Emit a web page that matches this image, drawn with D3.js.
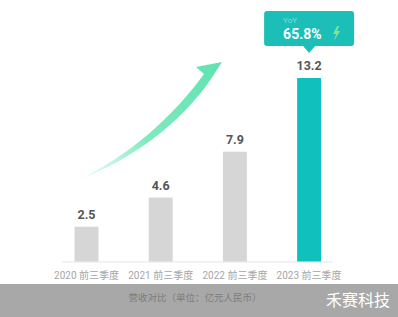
<!DOCTYPE html>
<html><head><meta charset="utf-8">
<script src="https://cdn.jsdelivr.net/npm/d3@7"></script>
<style>html,body{margin:0;padding:0;background:#fff;overflow:hidden}</style>
</head><body>
<svg id="c" width="398" height="317"></svg>
<script>
const categories = ["2020 前三季度","2021 前三季度","2022 前三季度","2023 前三季度"];
const values = [2.5, 4.6, 7.9, 13.2];
const valueLabels = ["2.5","4.6","7.9","13.2"];
const caption = "营收对比（单位：亿元人民币）";
const yoyLabel = "YoY";
const yoyValue = "65.8%";
const watermark = "禾赛科技";

const svg = d3.select("#c");
const font = "Roboto, 'Noto Sans CJK SC', sans-serif";

const x = d3.scaleBand().domain(categories).range([49.4, 346.2]).paddingInner(0.677).paddingOuter(0.3385);
const y = d3.scaleLinear().domain([0, 13.2]).range([261.5, 78]);

const defs = svg.append("defs");
const g = defs.append("linearGradient").attr("id","ag").attr("x1","0").attr("y1","1").attr("x2","1").attr("y2","0");
g.append("stop").attr("offset","0").attr("stop-color","#7eeec0").attr("stop-opacity",0.15);
g.append("stop").attr("offset","0.4").attr("stop-color","#68e6b4").attr("stop-opacity",0.85);
g.append("stop").attr("offset","1").attr("stop-color","#5fe3b0");

svg.append("rect").attr("x",0).attr("y",284).attr("width",398).attr("height",33).attr("fill","#a8a8a8");
svg.append("text").attr("x",195).attr("y",301).attr("text-anchor","middle").attr("font-size",9.5)
  .attr("font-family",font).attr("fill","#7c7c7c").text(caption);
svg.append("text").attr("x",390).attr("y",306).attr("text-anchor","end").attr("font-size",16)
  .attr("font-family","'Noto Sans CJK SC', sans-serif").attr("fill","#ffffff").text(watermark);

svg.append("line").attr("x1",62).attr("x2",333).attr("y1",y(0)+0.5).attr("y2",y(0)+0.5)
  .attr("stroke","#eeeeee").attr("stroke-width",1.5);

svg.selectAll("rect.bar").data(values).join("rect").attr("class","bar")
  .attr("x",(d,i)=>x(categories[i])).attr("width",x.bandwidth())
  .attr("y",d=>y(d)).attr("height",d=>y(0)-y(d))
  .attr("fill",(d,i)=>i===values.length-1?"#0fc0bd":"#d6d6d6");

svg.selectAll("text.val").data(values).join("text").attr("class","val")
  .attr("x",(d,i)=>x(categories[i])+x.bandwidth()/2).attr("y",d=>y(d)-8)
  .attr("text-anchor","middle").attr("font-size",12.5).attr("font-weight","bold")
  .attr("font-family",font).attr("fill","#555").text((d,i)=>valueLabels[i]);

const xa = svg.append("g").attr("transform",`translate(0,${y(0)})`)
  .call(d3.axisBottom(x).tickSize(0).tickPadding(8));
xa.select(".domain").remove();
xa.selectAll("text").attr("font-size",10).attr("font-family",font).attr("fill","#a6a6a6").attr("dy","0.9em");

svg.append("path")
  .attr("d","M80,179 C127,157 173,117 204,74 L196,67 L222,62 L211,79 C182,122 132,160 80,179 Z")
  .attr("fill","url(#ag)");

const cx = x(categories[3]) + x.bandwidth()/2;
const tip = svg.append("g");
tip.append("path")
  .attr("d",`M${cx-42},11 h84 a3,3 0 0 1 3,3 v29 a3,3 0 0 1 -3,3 h-${42-6} l-6,7 l-6,-7 h-${42-6} a3,3 0 0 1 -3,-3 v-29 a3,3 0 0 1 3,-3 Z`)
  .attr("fill","#1cbfb8");
tip.append("text").attr("x",cx-26).attr("y",23).attr("font-size",8).attr("font-family",font)
  .attr("fill","#7fdcd6").text(yoyLabel);
tip.append("text").attr("x",cx-26).attr("y",39).attr("font-size",14).attr("font-weight","bold")
  .attr("font-family",font).attr("fill","#ffffff").text(yoyValue);
tip.append("path")
  .attr("d",`M${cx+28},26 L${cx+24},34 L${cx+27},34 L${cx+25},41 L${cx+31},31 L${cx+28},31 L${cx+30},26 Z`)
  .attr("fill","#7ce39a");
</script>
</body></html>
